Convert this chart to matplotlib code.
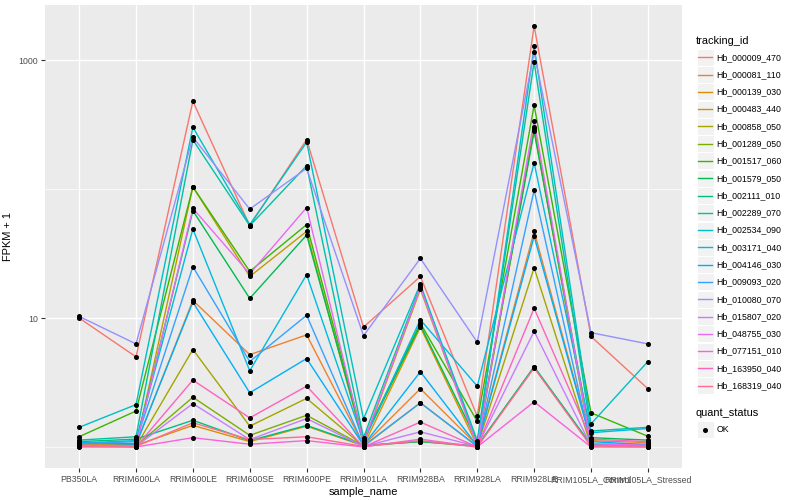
import numpy as np
import matplotlib
matplotlib.use("Agg")
import matplotlib.pyplot as plt
from matplotlib.ticker import FixedLocator, NullFormatter, FixedFormatter
from matplotlib.patches import Rectangle
from matplotlib.lines import Line2D

plt.rcParams['font.family'] = ['Liberation Sans', 'DejaVu Sans']

samples = ["PB350LA", "RRIM600LA", "RRIM600LE", "RRIM600SE", "RRIM600PE",
           "RRIM901LA", "RRIM928BA", "RRIM928LA", "RRIM928LE",
           "RRIM105LA_Control", "RRIM105LA_Stressed"]

tracking_ids = ["Hb_000009_470", "Hb_000081_110", "Hb_000139_030", "Hb_000483_440",
                "Hb_000858_050", "Hb_001289_050", "Hb_001517_060", "Hb_001579_050",
                "Hb_002111_010", "Hb_002289_070", "Hb_002534_090", "Hb_003171_040",
                "Hb_004146_030", "Hb_009093_020", "Hb_010080_070", "Hb_015807_020",
                "Hb_048755_030", "Hb_077151_010", "Hb_163950_040", "Hb_168319_040"]

colors = ["#F8766D", "#EA8331", "#D89000", "#C09B00", "#A3A500", "#7CAE00",
          "#39B600", "#00BB4E", "#00BF7D", "#00C1A3", "#00BFC4", "#00BAE0",
          "#00B0F6", "#35A2FF", "#9590FF", "#C77CFF", "#E76BF3", "#FA62DB",
          "#FF62BC", "#FF6C91"]

# FPKM + 1 values, one list per tracking_id, in sample order
Hb_000009_470 = [10.0, 5.0, 480, 52, 242, 8.5, 21, 1.73, 1840, 7.2, 2.83]
Hb_000081_110 = [1.05, 1.04, 13.7, 5.2, 7.4, 1.03, 2.83, 1.03, 47, 1.12, 1.08]
Hb_000139_030 = [1.04, 1.03, 1.47, 1.1, 1.45, 1.02, 8.5, 1.02, 290, 1.04, 1.03]
Hb_000483_440 = [1.04, 1.03, 104, 21, 47, 1.05, 16.7, 1.03, 302, 1.05, 1.05]
Hb_000858_050 = [1.02, 1.01, 5.7, 1.45, 2.38, 1.01, 2.2, 1.01, 24.5, 1.02, 1.02]
Hb_001289_050 = [1.03, 1.02, 2.43, 1.23, 1.76, 1.02, 1.1, 1.01, 4.15, 1.03, 1.02]
Hb_001517_060 = [1.2, 1.9, 104, 23, 53, 1.15, 9.1, 1.58, 446, 1.84, 1.21]
Hb_001579_050 = [1.08, 1.06, 68, 14.2, 44, 1.12, 8.8, 1.1, 280, 1.18, 1.13]
Hb_002111_010 = [1.1, 1.15, 1.61, 1.12, 1.47, 1.03, 1.1, 1.02, 4.2, 1.04, 1.02]
Hb_002289_070 = [1.13, 1.2, 241, 52, 152, 1.18, 17.8, 1.12, 968, 1.33, 1.42]
Hb_002534_090 = [1.42, 2.13, 302, 53, 231, 1.65, 18.4, 1.05, 1280, 1.51, 4.6]
Hb_003171_040 = [1.07, 1.12, 49, 3.9, 21.7, 1.1, 9.7, 2.96, 160, 1.29, 1.39]
Hb_004146_030 = [1.08, 1.05, 13.3, 2.63, 4.85, 1.03, 3.83, 1.02, 43, 1.1, 1.04]
Hb_009093_020 = [1.06, 1.1, 25, 4.6, 10.5, 1.02, 2.2, 1.01, 98, 1.03, 1.02]
Hb_010080_070 = [10.3, 6.3, 253, 70, 145, 7.3, 29, 6.5, 1150, 7.7, 6.3]
Hb_015807_020 = [1.02, 1.01, 2.17, 1.14, 1.66, 1.01, 1.31, 1.01, 7.9, 1.02, 1.01]
Hb_048755_030 = [1.03, 1.02, 71, 22, 72, 1.08, 17.3, 1.02, 340, 1.06, 1.03]
Hb_077151_010 = [1.0, 1.0, 1.18, 1.05, 1.12, 1.0, 1.15, 1.0, 2.24, 1.0, 1.0]
Hb_163950_040 = [1.01, 1.0, 3.3, 1.68, 2.96, 1.0, 1.56, 1.0, 11.9, 1.15, 1.1]
Hb_168319_040 = [1.02, 1.01, 1.54, 1.14, 1.2, 1.01, 1.12, 1.0, 4.1, 1.01, 1.0]

series = [Hb_000009_470, Hb_000081_110, Hb_000139_030, Hb_000483_440, Hb_000858_050,
          Hb_001289_050, Hb_001517_060, Hb_001579_050, Hb_002111_010, Hb_002289_070,
          Hb_002534_090, Hb_003171_040, Hb_004146_030, Hb_009093_020, Hb_010080_070,
          Hb_015807_020, Hb_048755_030, Hb_077151_010, Hb_163950_040, Hb_168319_040]

W, H = 800, 500
fig = plt.figure(figsize=(8, 5), dpi=100)
px = 0.72  # px -> pt at 100 dpi

left, right, top, bottom = 45, 682, 5, 468
ax = fig.add_axes([left / W, 1 - bottom / H, (right - left) / W, (bottom - top) / H])
ax.set_facecolor("#EBEBEB")
for s in ax.spines.values():
    s.set_visible(False)

x = np.arange(len(samples))
for vals, c in zip(series, colors):
    ax.plot(x, vals, color=c, lw=1.0, zorder=3, solid_capstyle='butt')
for vals in series:
    ax.plot(x, vals, ls='none', marker='o', ms=2.6, color='black', zorder=4)

ax.set_yscale('log')
allv = np.concatenate([np.array(s, float) for s in series])
lo, hi = np.log10(allv.min()), np.log10(allv.max())
pad = 0.05 * (hi - lo)
ax.set_ylim(10 ** (lo - pad), 10 ** (hi + pad))
ax.set_xlim(-0.6, len(samples) - 0.4)

ax.yaxis.set_major_locator(FixedLocator([10, 1000]))
ax.yaxis.set_major_formatter(FixedFormatter(["10", "1000"]))
ax.yaxis.set_minor_locator(FixedLocator([1, 100]))
ax.yaxis.set_minor_formatter(NullFormatter())
ax.set_xticks(x)
ax.set_xticklabels(samples)

ax.grid(True, which='major', color='white', lw=1.0, zorder=0)
ax.grid(True, which='minor', axis='y', color='white', lw=0.5, zorder=0)
ax.set_axisbelow(True)
ax.tick_params(which='major', length=3, width=0.8, color='#333333',
               labelcolor='#4D4D4D', labelsize=8.8 * px, pad=2)
ax.tick_params(which='minor', length=0)

ax.set_xlabel("sample_name", fontsize=11 * px, color='black', labelpad=2)
ax.set_ylabel("FPKM + 1", fontsize=11 * px, color='black', labelpad=4)

# Legends (figure pixel coordinates)
def fx(v):
    return v / W

def fy(v):
    return 1 - v / H

fig.text(fx(696), fy(40.5), "tracking_id", fontsize=11 * px, va='center', ha='left')
y0, dy, kw = 57.3, 17.28, 17
for i, (name, c) in enumerate(zip(tracking_ids, colors)):
    yc = y0 + i * dy
    fig.patches.append(Rectangle((fx(696.5), fy(yc + kw / 2)), kw / W, kw / H,
                                 transform=fig.transFigure, facecolor='#F2F2F2',
                                 edgecolor='white', lw=0.8))
    fig.lines.append(Line2D([fx(698), fx(712)], [fy(yc), fy(yc)], color=c, lw=1.0,
                            transform=fig.transFigure))
    fig.text(fx(716.5), fy(yc), name, fontsize=8.8 * px, va='center', ha='left')

fig.text(fx(696), fy(412.5), "quant_status", fontsize=11 * px, va='center', ha='left')
yc = 429.5
fig.patches.append(Rectangle((fx(696.5), fy(yc + kw / 2)), kw / W, kw / H,
                             transform=fig.transFigure, facecolor='#F2F2F2',
                             edgecolor='white', lw=0.8))
fig.lines.append(Line2D([fx(705)], [fy(yc)], marker='o', ms=2.6, color='black',
                        ls='none', transform=fig.transFigure))
fig.text(fx(716.5), fy(yc), "OK", fontsize=8.8 * px, va='center', ha='left')

fig.savefig("out.png", dpi=100)
